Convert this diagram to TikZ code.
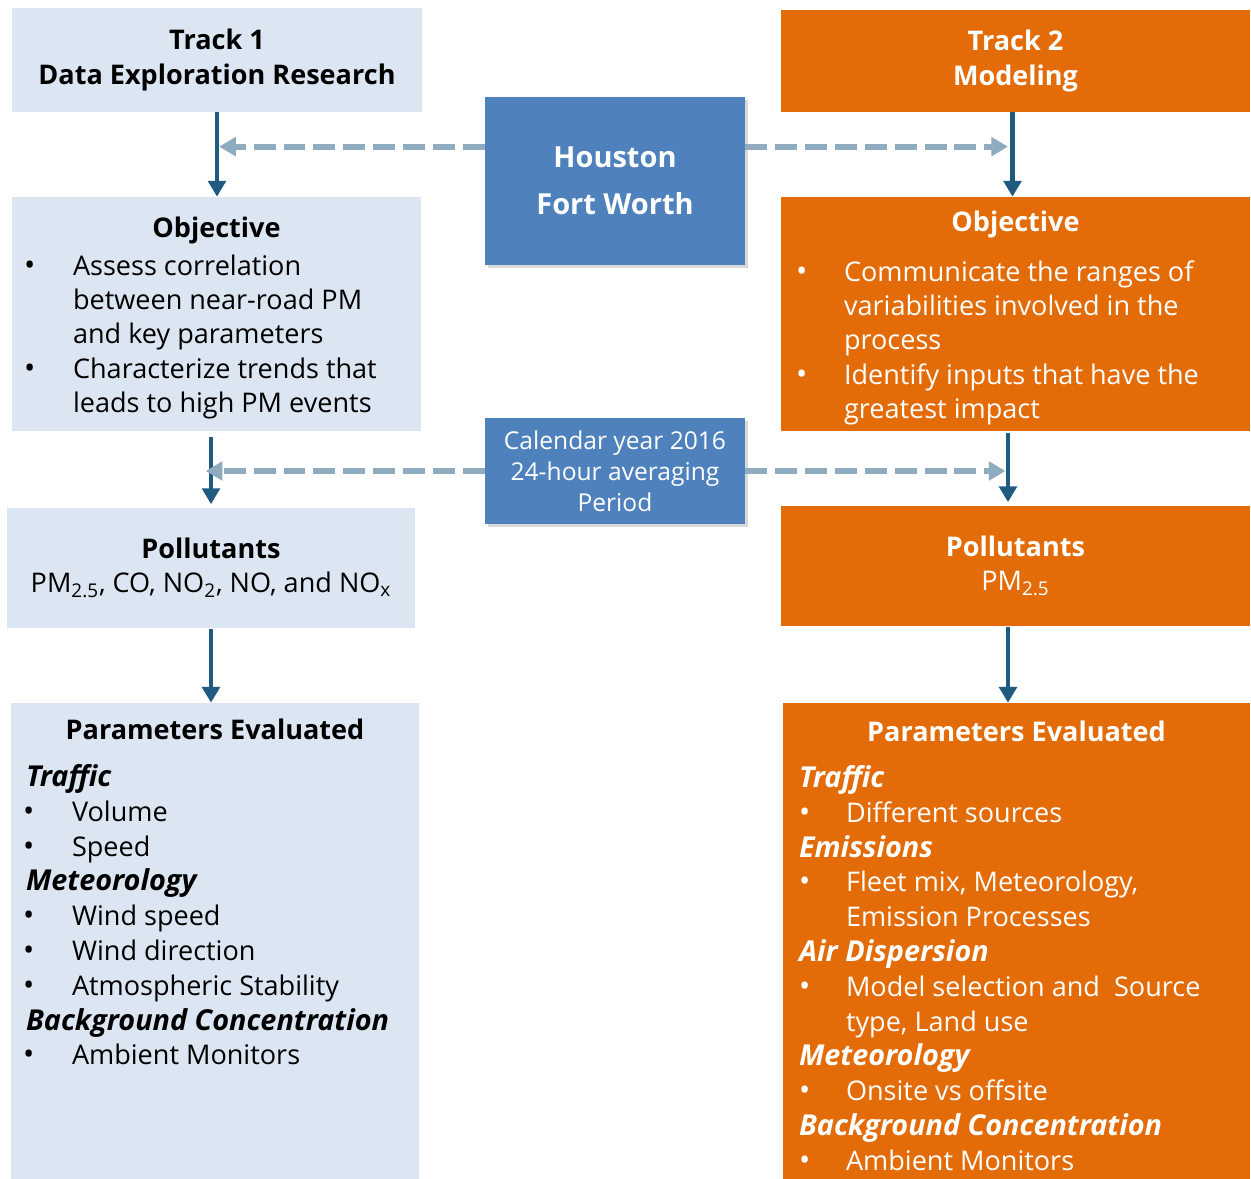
\documentclass[tikz,border=0pt]{standalone}
\usepackage{fontspec}
\setmainfont{Open Sans}
\usetikzlibrary{arrows.meta,calc,shadows}

\definecolor{trackblue}{HTML}{DCE6F2}
\definecolor{trackorange}{HTML}{E36C09}
\definecolor{cityblue}{HTML}{4F81BD}
\definecolor{flowblue}{HTML}{1F5A80}
\definecolor{linkgrey}{HTML}{8FABC0}

\newdimen\pxu \pxu=0.56906pt
\newdimen\bulind \newdimen\txtind \newdimen\hdind
% #1 width, #2 bullet indent, #3 text indent, #4 heading indent, #5 content
\newcommand\panelbox[5]{\vtop{\hsize=#1\pxu\bulind=#2\pxu\txtind=#3\pxu\hdind=#4\pxu
  \parindent=0pt\raggedright#5\par}}
\newcommand\paritem[1]{\par\noindent\hangindent=\txtind\hangafter=1%
  \hbox to\txtind{\hskip\bulind{\fontsize{17}{19.6}\selectfont\textbullet}\hfil}#1}
\newcommand\parhead[1]{\par\noindent\hskip\hdind{\fontsize{16.4}{19.6}\selectfont\bfseries\itshape #1}}

\begin{document}
\fontsize{15.4}{19.6}\selectfont
\begin{tikzpicture}[x=0.02cm, y=-0.02cm,
    box/.style 2 args={rectangle, inner sep=0pt, align=center,
      minimum width=#1*\pxu, minimum height=#2*\pxu},
    lightbox/.style={fill=trackblue, text=black},
    darkbox/.style={fill=trackorange, text=white},
    citybox/.style={fill=cityblue, text=white,
      drop shadow={opacity=0.3, shadow xshift=1.5pt, shadow yshift=-1.5pt}},
    panel/.style={anchor=base west, inner sep=0pt},
    flow/.style={draw=flowblue, line width=2.8pt, -{Triangle[width=10pt,length=9pt]}},
    link/.style={draw=linkgrey, line width=3.6pt, dash pattern=on 12.5pt off 4.5pt,
      -{Triangle[width=10.5pt,length=9.5pt]}}]
\useasboundingbox (0,0) rectangle (1251,1179);

% tracks and study area
\node[box={410}{104}, lightbox, font=\bfseries] (t1) at (217,60) {Track 1\\Data Exploration Research};
\node[box={469}{102}, darkbox, font=\bfseries] (t2) at (1015.5,61) {Track 2\\Modeling};
\node[box={260}{168}, citybox, font=\fontsize{16.5}{26.7}\selectfont\bfseries] (hf) at (615,181) {Houston\\Fort Worth};
\node[box={260}{106}, citybox, font=\fontsize{14}{17.6}\selectfont] (cy) at (615,471) {Calendar year 2016\\24-hour averaging\\Period};

% objectives
\node[box={409}{234}, lightbox] (o1) at (216.5,314) {};
\node[box={469}{234}, darkbox] (o2) at (1015.5,314) {};
\node[panel, text=black] (o1txt) at ($(o1.north west)+(0,41)$) {\panelbox{409}{12}{61}{16}{%
  \makebox[\hsize]{\bfseries Objective}\par\vspace{3\pxu}
  \paritem{Assess correlation\newline between near-road PM\newline and key parameters}
  \paritem{Characterize trends that\newline leads to high PM events}}};
\node[panel, text=white] (o2txt) at ($(o2.north west)+(0,35)$) {\panelbox{469}{15}{63}{16}{%
  \makebox[\hsize]{\bfseries Objective}\par\vspace{15\pxu}
  \paritem{Communicate the ranges of\newline variabilities involved in the\newline process}
  \paritem{Identify inputs that have the\newline greatest impact}}};

% pollutants
\node[box={408}{121}, lightbox] (p1) at (211,568) {\textbf{Pollutants}\\PM\textsubscript{2.5}, CO, NO\textsubscript{2}, NO, and NO\textsubscript{x}};
\node[box={469}{121}, darkbox] (p2) at (1015.5,566) {\textbf{Pollutants}\\PM\textsubscript{2.5}};

% parameters
\node[box={408}{476}, lightbox] (pe1) at (215,941) {};
\node[box={467}{476}, darkbox] (pe2) at (1016.5,941) {};
\node[panel, text=black] (pe1txt) at ($(pe1.north west)+(0,37)$) {\panelbox{408}{12}{61}{15}{%
  \baselineskip=34.8\pxu
  \makebox[\hsize]{\bfseries Parameters Evaluated}\par\vspace{12\pxu}
  \parhead{Traffic}
  \paritem{Volume}
  \paritem{Speed}
  \parhead{Meteorology}
  \paritem{Wind speed}
  \paritem{Wind direction}
  \paritem{Atmospheric Stability}
  \parhead{Background Concentration}
  \paritem{Ambient Monitors}}};
\node[panel, text=white] (pe2txt) at ($(pe2.north west)+(0,39)$) {\panelbox{467}{16}{63}{16}{%
  \baselineskip=34.8\pxu
  \makebox[\hsize]{\bfseries Parameters Evaluated}\par\vspace{11\pxu}
  \parhead{Traffic}
  \paritem{Different sources}
  \parhead{Emissions}
  \paritem{Fleet mix, Meteorology,\newline Emission Processes}
  \parhead{Air Dispersion}
  \paritem{Model selection and\ \ Source\newline type, Land use}
  \parhead{Meteorology}
  \paritem{Onsite vs offsite}
  \parhead{Background Concentration}
  \paritem{Ambient Monitors}}};

% solid flow down each track
\draw[flow] (t1.south) -- (t1.south |- o1.north);
\draw[flow] ($(t2.south)+(-3,0)$) -- ($(t2.south |- o2.north)+(-3,0)$);
\draw[flow] ($(o1.south -| p1.north)+(0,6)$) -- ($(p1.north)+(0,-3)$);
\draw[flow] ($(o2.south)+(-7.5,2)$) -- ($(p2.north)+(-7.5,-3)$);
\draw[flow] (p1.south) -- (p1.south |- pe1.north);
\draw[flow] ($(p2.south)+(-7.5,0)$) -- ($(p2.south |- pe2.north)+(-7.5,0)$);

% dashed links from the shared boxes
\coordinate (hfl) at ($(hf.north west)+(0,50)$);
\coordinate (hfr) at ($(hf.north east)+(0,50)$);
\draw[link, shorten >=1.2pt] (hfl) -- (hfl -| t1.south);
\draw[link, shorten >=4.3pt] (hfr) -- (hfr -| t2.south);
\draw[link, shorten >=-3pt] (cy.west) -- (cy.west -| p1.north);
\draw[link, shorten >=5.7pt] (cy.east) -- (cy.east -| p2.north);
\end{tikzpicture}
\end{document}
